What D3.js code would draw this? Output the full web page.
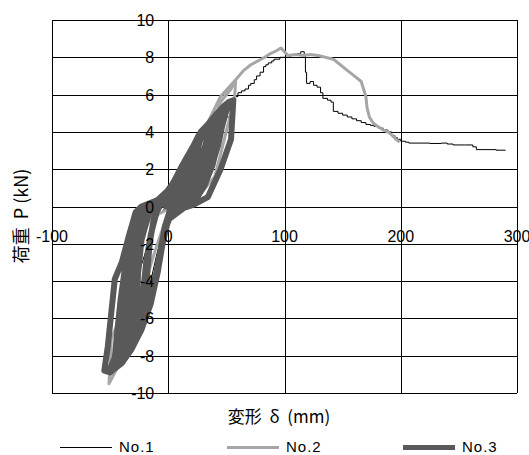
<!DOCTYPE html>
<html lang="ja">
<head>
<meta charset="utf-8">
<title>荷重-変形</title>
<script src="https://d3js.org/d3.v7.min.js"></script>
<style>
  body { margin: 0; background: #fff; }
  svg text { font-family: "Liberation Sans", sans-serif; fill: #000; }
  svg text.jp { font-family: "Noto Sans CJK JP", sans-serif; white-space: pre; }
</style>
</head>
<body>
<div id="chart"></div>
<script>
// tick values / labels
var xTicks = [-100, 0, 100, 200, 300];
var xTickLabels = ["-100", "0", "100", "200", "300"];
var yTicks = [-10, -8, -6, -4, -2, 0, 2, 4, 6, 8, 10];
var yTickLabels = ["-10", "-8", "-6", "-4", "-2", "0", "2", "4", "6", "8", "10"];
var seriesNames = ["No.1", "No.2", "No.3"];

// No.1 : [deformation mm, load kN]  -- cyclic part, then final push
var no1Cycles = [[0,0],[10,1.2],[25,3.2],[40,4.6],[50,5.3],[45,4.2],[30,2.8],[10,0.8],[-10,-0.6],[-25,-3.5],
  [-35,-6],[-42,-7.8],[-45,-8.6],[-43,-8.6],[-40,-8.4],[-38,-8.4],[-36,-8.2],[-34,-8.0],[-31,-7.6],
  [-29,-7.3],[-26,-6.7],[-18,-4.8],[-10,-2.6],[0,-0.3],[15,0.5],[30,1.5],[42,3.2],[50,4.8]];
var no1Push = [[50,4.8],[55,5.8],[58,5.9],[60,6.1],[63,6.2],[66,6.3],[69,6.5],[71,6.6],[74,6.8],[76,7.0],
  [79,7.2],[82,7.5],[84,7.6],[86,7.7],[89,7.8],[91,7.9],[96,8.0],[100,8.0],[105,8.1],[110,8.2],[114,8.3],
  [117,8.1],[118,7.2],[119,6.6],[122,6.7],[125,6.5],[128,6.4],[131,6.1],[133,5.8],[137,5.7],[140,5.6],
  [142,5.1],[146,5.0],[150,4.9],[154,4.8],[158,4.7],[162,4.6],[166,4.5],[170,4.4],[174,4.35],[177,4.3],
  [181,4.2],[185,4.1],[189,4.0],[192,3.8],[195,3.7],[197,3.6],[200,3.5],[204,3.45],[207,3.4],[215,3.4],
  [225,3.38],[235,3.4],[240,3.35],[245,3.3],[255,3.3],[262,3.2],[265,3.05],[275,3.05],[282,3.02],[290,3.0]];

// No.2
var no2 = [[0,0],[15,1.8],[30,4.0],[45,5.9],[58,6.8],[57,5.7],[51,4.3],[45,2.8],[40,1.6],[25,0.5],[5,0],
  [-15,-0.6],[-28,-2.2],[-33,-3.9],[-39,-5.3],[-45,-6.5],[-49,-7.1],[-50,-8.5],[-51,-9.5],[-45,-8.8],
  [-35,-7.3],[-25,-5.2],[-12,-2.5],[0,-0.3],[15,0.8],[30,3.0],[45,5.6],[54,6.3],[58,6.8],[65,7.3],
  [71,7.6],[77,7.8],[83,8.0],[88,8.2],[93,8.35],[97,8.5],[100,8.3],[103,8.1],[110,8.15],[116,8.1],
  [122,8.15],[129,8.1],[135,8.0],[142,7.9],[148,7.6],[154,7.3],[160,7.0],[166,6.7],[168,6.3],[170,5.9],
  [171,5.3],[173,4.8],[176,4.5],[180,4.3],[185,4.1],[189,4.0],[193,3.8],[196,3.6],[199,3.45]];

// No.3 (cyclic loops)
var no3 = [[0,0],[-2,0],[8,0.9],[14,1.8],[20,3.0],[14,2.3],[5,1.2],[-6,0.3],[-12,-0.5],[-16,-2.0],
  [-18,-3.5],[-19,-5.6],[-15,-5.0],[-9,-3.3],[-3,-1.2],[2,-0.2],
  [10,0.4],[17,1.3],[22,2.4],[24,3.4],[18,2.8],[8,1.6],[-4,0.4],[-10,-0.3],[-15,-1.5],[-19,-3.0],
  [-22,-4.8],[-23,-6.2],[-18,-5.5],[-11,-3.8],[-5,-1.8],[1,-0.3],
  [10,0.7],[18,1.8],[25,3.0],[30,4.1],[25,3.6],[16,2.5],[6,1.3],[-8,0.3],[-17,-0.4],[-23,-1.8],
  [-26,-3.6],[-27,-5.5],[-28,-6.9],[-23,-6.4],[-15,-5.0],[-9,-3.3],[-3,-1.1],[2,-0.1],
  [5,0],[14,0.4],[22,1.2],[28,2.2],[32,3.2],[35,4.4],[30,4.0],[20,3.0],[10,1.9],[0,0.8],[-10,0.2],
  [-20,-0.6],[-26,-2.2],[-30,-4],[-32,-5.8],[-33,-7.2],[-28,-7.0],[-20,-5.9],[-12,-4.3],[-6,-2.3],[0,-0.6],
  [12,0.4],[20,1.3],[28,2.6],[35,3.8],[40,4.8],[35,4.4],[25,3.5],[14,2.1],[3,0.9],[-12,0.2],[-22,-0.5],
  [-29,-2.0],[-33,-3.8],[-35,-5.6],[-36,-7.0],[-37,-7.8],[-32,-7.5],[-23,-6.3],[-15,-4.9],[-9,-3.2],
  [-3,-1.1],[3,-0.2],
  [8,-0.1],[18,0.4],[26,1.0],[33,2.0],[39,3.3],[44,5.0],[38,4.6],[30,4.1],[22,3.3],[12,2.2],[2,1.0],
  [-10,0.3],[-22,-0.6],[-30,-2.4],[-35,-4.3],[-38,-6.2],[-40,-7.4],[-41,-8.1],[-36,-7.9],[-28,-7.0],
  [-20,-5.8],[-12,-4.2],[-6,-2.2],[0,-0.6],
  [14,0.2],[22,0.8],[28,1.6],[36,3.0],[42,4.2],[47,5.3],[42,5.0],[33,4.3],[22,3.1],
  [10,1.8],[-2,0.5],[-16,0.1],[-25,-0.8],[-33,-2.6],[-38,-4.2],[-40,-6.0],[-42,-7.6],[-44,-8.4],
  [-40,-8.2],[-32,-7.5],[-23,-6.4],[-15,-5],[-9,-3.3],[-3,-1.2],[3,-0.3],
  [10,-0.2],[20,0.2],[28,0.8],[34,1.6],[40,2.8],[46,4.3],[50,5.5],[45,5.2],[36,4.5],[26,3.7],[16,2.6],
  [6,1.4],[-6,0.4],[-16,0.1],[-26,-0.9],[-34,-2.8],[-39,-4.6],[-41,-6.3],[-43,-7.8],[-46,-8.5],
  [-42,-8.4],[-35,-7.8],[-27,-6.9],[-19,-5.7],[-12,-4.2],[-6,-2.3],[0,-0.7],
  [15,0],[25,0.5],[31,1.1],
  [38,2.2],[45,4.0],[52,5.6],[48,5.4],[40,4.8],[28,3.9],[20,3.0],[9,1.8],[-3,0.5],[-18,0.1],[-27,-1.0],
  [-35,-3.0],[-40,-4.8],[-42,-6.5],[-45,-8.0],[-48,-8.6],[-45,-8.6],[-40,-8.3],[-32,-7.6],[-23,-6.5],
  [-15,-5.1],[-9,-3.4],[-3,-1.2],[3,-0.3],
  [5,-0.1],[18,0.3],[28,0.9],[36,1.9],[43,3.3],[48,4.8],[53,5.6],[47,5.3],[38,4.7],[26,3.8],[15,2.4],
  [4,1.1],[-8,0.3],[-20,0.0],[-29,-1.2],[-37,-3.2],[-41,-5.0],[-44,-6.8],[-46,-8.1],[-50,-8.7],
  [-46,-8.7],[-40,-8.4],[-32,-7.7],[-23,-6.6],[-15,-5.2],[-9,-3.5],[-3,-1.3],[3,-0.3],
  [12,-0.1],[22,0.1],[34,0.5],[45,2.0],[54,3.6],[56,5.7],
  [52,5.6],[40,4.8],[28,4.0],[20,3.0],[9,1.8],[-3,0.5],[-15,0.2],[-23,0],[-28,-0.3],[-34,-1.6],
  [-40,-3.0],[-46,-3.9],[-49,-5.7],[-52,-7.5],[-55,-8.8],[-50,-8.9],[-45,-8.6],[-40,-8.3],[-32,-7.6],
  [-23,-6.5],[-15,-5.1],[-9,-3.4],[-3,-1.3],[3,-0.3]];

var W = 529, H = 455;
var plot = {left: 52, right: 517, top: 20, bottom: 393};

var svg = d3.select("#chart").append("svg")
  .attr("width", W)
  .attr("height", H);

var x = d3.scaleLinear().domain([-100, 300]).range([plot.left, plot.right]);
var y = d3.scaleLinear().domain([-10, 10]).range([plot.bottom, plot.top]);

function px(v) { return Math.round(v) + 0.5; }

// grid
var grid = svg.append("g").attr("stroke", "#000").attr("stroke-width", 1);
grid.selectAll("line.h")
  .data(yTicks)
  .enter().append("line")
  .attr("x1", plot.left).attr("x2", plot.right)
  .attr("y1", function(d) { return px(y(d)); })
  .attr("y2", function(d) { return px(y(d)); });
grid.selectAll("line.v")
  .data(xTicks)
  .enter().append("line")
  .attr("y1", plot.top).attr("y2", plot.bottom)
  .attr("x1", function(d) { return px(x(d)); })
  .attr("x2", function(d) { return px(x(d)); });

// series
var line = d3.line()
  .x(function(d) { return x(d[0]); })
  .y(function(d) { return y(d[1]); });
var stepLine = d3.line()
  .curve(d3.curveStepAfter)
  .x(function(d) { return x(d[0]); })
  .y(function(d) { return y(d[1]); });

svg.append("path").datum(no1Cycles)
  .attr("d", line)
  .attr("fill", "none").attr("stroke", "#000").attr("stroke-width", 1);
svg.append("path").datum(no1Push)
  .attr("d", stepLine)
  .attr("fill", "none").attr("stroke", "#000").attr("stroke-width", 1);

svg.append("path").datum(no2)
  .attr("d", line)
  .attr("fill", "none").attr("stroke", "#a6a6a6").attr("stroke-width", 3)
  .attr("stroke-linejoin", "round");

svg.append("path").datum(no3)
  .attr("d", line)
  .attr("fill", "none").attr("stroke", "#595959").attr("stroke-width", 6)
  .attr("stroke-linejoin", "round");

// tick labels (axes cross at zero)
svg.append("g").selectAll("text")
  .data(yTicks)
  .enter().append("text")
  .attr("x", x(0) - 14)
  .attr("y", function(d) { return y(d) + 6; })
  .attr("text-anchor", "end")
  .style("font-size", "16px")
  .text(function(d, i) { return yTickLabels[i]; });

svg.append("g").selectAll("text")
  .data(xTicks)
  .enter().append("text")
  .attr("x", function(d) { return x(d); })
  .attr("y", y(0) + 35)
  .attr("text-anchor", "middle")
  .style("font-size", "16px")
  .text(function(d, i) { return xTickLabels[i]; });

// axis titles
svg.append("text")
  .attr("class", "jp")
  .attr("transform", "translate(28,216) rotate(-90)")
  .attr("text-anchor", "middle")
  .style("font-size", "18px")
  .text("荷重  P (kN)");

svg.append("text")
  .attr("class", "jp")
  .attr("x", 279)
  .attr("y", 423)
  .attr("text-anchor", "middle")
  .style("font-size", "17px")
  .text("変形  δ  (mm)");

// legend
var legendX = [60, 227, 403];
var legendStyle = [["#000", 1], ["#a6a6a6", 3], ["#595959", 5]];
var legend = svg.append("g").selectAll("g")
  .data(seriesNames)
  .enter().append("g")
  .attr("transform", function(d, i) { return "translate(" + legendX[i] + ",447)"; });
legend.append("line")
  .attr("x1", 0).attr("x2", 52).attr("y1", 0.5).attr("y2", 0.5)
  .attr("stroke", function(d, i) { return legendStyle[i][0]; })
  .attr("stroke-width", function(d, i) { return legendStyle[i][1]; });
legend.append("text")
  .attr("x", 59).attr("y", 4.5)
  .style("font-size", "15px")
  .style("letter-spacing", "1px")
  .text(function(d) { return d; });
</script>
</body>
</html>
